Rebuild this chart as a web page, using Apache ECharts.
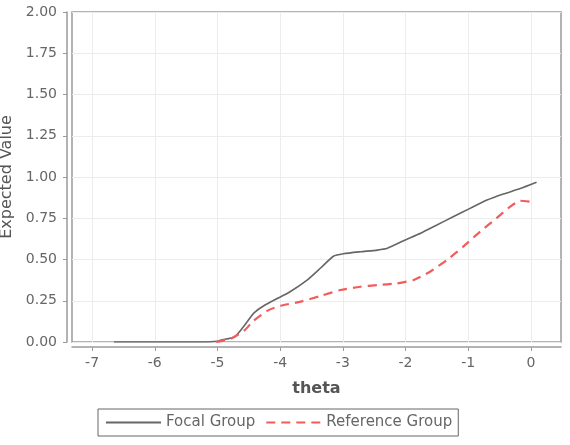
<!DOCTYPE html>
<html>
<head>
<meta charset="utf-8">
<script src="https://cdn.jsdelivr.net/npm/echarts@6/dist/echarts.min.js"></script>
<style>html,body{margin:0;padding:0;background:#fff}#c{width:570px;height:445px}</style>
</head>
<body>
<div id="c"></div>
<script>
var seriesNames = ['Focal Group', 'Reference Group'];
var xTicks = [-7, -6, -5, -4, -3, -2, -1, 0];
var yTicks = [0, 0.25, 0.5, 0.75, 1, 1.25, 1.5, 1.75, 2];
var focalTheta = [-6.65, -5.2, -5.0, -4.94, -4.73, -4.57, -4.42, -4.26, -4.04, -3.86, -3.57, -3.35, -3.15, -2.99, -2.72, -2.45, -2.29, -2.03, -1.76, -1.50, -1.24, -0.97, -0.70, -0.44, -0.17, 0.09];
var focalValue = [0, 0, 0.005, 0.012, 0.03, 0.10, 0.175, 0.22, 0.265, 0.30, 0.375, 0.45, 0.52, 0.535, 0.547, 0.557, 0.568, 0.614, 0.659, 0.709, 0.759, 0.81, 0.86, 0.897, 0.93, 0.968];
var refTheta = [-5.02, -4.79, -4.57, -4.42, -4.20, -3.99, -3.67, -3.35, -3.04, -2.72, -2.45, -2.14, -1.87, -1.61, -1.34, -1.08, -0.81, -0.55, -0.33, -0.17, 0.01];
var refValue = [0, 0.02, 0.07, 0.13, 0.19, 0.22, 0.245, 0.28, 0.315, 0.335, 0.345, 0.355, 0.376, 0.426, 0.497, 0.578, 0.669, 0.75, 0.82, 0.856, 0.85];

function zip(a, b) { return a.map(function (v, i) { return [v, b[i]]; }); }

var font = 'DejaVu Sans';
var chart = echarts.init(document.getElementById('c'), null, { renderer: 'canvas' });
chart.setOption({
  backgroundColor: '#fff',
  animation: false,
  grid: {
    left: 72, right: 9, top: 12, bottom: 103,
    outerBoundsMode: 'none', containLabel: false,
    show: true, borderColor: '#9a9a9a', borderWidth: 1.5, backgroundColor: '#fff'
  },
  xAxis: {
    type: 'value', min: -7.32, max: 0.48,
    offset: 5,
    name: 'theta', nameLocation: 'middle', nameGap: 34,
    nameTextStyle: { fontFamily: font, fontSize: 16, fontWeight: 'bold', color: '#555' },
    axisLine: { show: true, onZero: false, lineStyle: { color: '#9a9a9a', width: 1.5 } },
    axisTick: { show: true, length: 4, lineStyle: { color: '#9a9a9a' }, customValues: xTicks },
    axisLabel: { fontFamily: font, fontSize: 14, color: '#666', margin: 9, customValues: xTicks },
    splitLine: { show: true, lineStyle: { color: '#ececec', width: 1 } }
  },
  yAxis: {
    type: 'value', min: 0, max: 2, interval: 0.25,
    offset: 5,
    name: 'Expected Value', nameLocation: 'middle', nameGap: 47,
    nameTextStyle: { fontFamily: font, fontSize: 16, color: '#555' },
    axisLine: { show: true, onZero: false, lineStyle: { color: '#9a9a9a', width: 1.5 } },
    axisTick: { show: true, length: 4, lineStyle: { color: '#9a9a9a' } },
    axisLabel: { fontFamily: font, fontSize: 14, color: '#666', margin: 10,
      formatter: function (v) { return v.toFixed(2); } },
    splitLine: { show: true, lineStyle: { color: '#ececec', width: 1 } }
  },
  legend: {
    top: 409, left: 98,
    padding: [6, 6, 6, 7],
    borderColor: '#666', borderWidth: 1,
    itemWidth: 55, itemHeight: 10, itemGap: 10,
    itemStyle: { opacity: 0 },
    textStyle: { fontFamily: font, fontSize: 15, color: '#666' },
    data: seriesNames
  },
  series: [
    {
      name: seriesNames[0], type: 'line', data: zip(focalTheta, focalValue),
      symbol: 'none', smooth: 0.2,
      lineStyle: { color: '#666', width: 1.6 }, itemStyle: { color: '#666' }
    },
    {
      name: seriesNames[1], type: 'line', data: zip(refTheta, refValue),
      symbol: 'none', smooth: 0.2,
      lineStyle: { color: '#f25c5c', width: 2.2, type: [9, 6] }, itemStyle: { color: '#f25c5c' }
    }
  ]
});
</script>
</body>
</html>
